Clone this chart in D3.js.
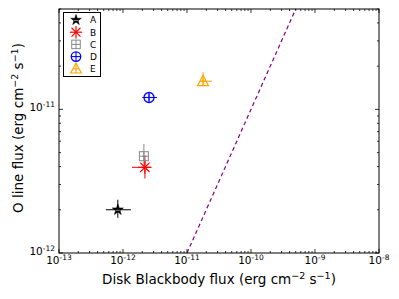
<!DOCTYPE html>
<html><head><meta charset="utf-8">
<script src="https://cdn.jsdelivr.net/npm/d3@7"></script>
<style>body{margin:0;background:#fff}svg{display:block}text{font-family:"DejaVu Sans",sans-serif}</style>
</head><body>
<svg id="c" width="399" height="299"></svg>
<script>
const names   = ["A","B","C","D","E"];
const colors  = ["#000000","#ff0000","#888888","#0000ff","#ffa500"];
const shapes  = ["star","asterisk","square","circle","triangle"];
const xVal    = [8.3e-13, 2.2e-12, 2.12e-12, 2.55e-12, 1.78e-11];
const xLo     = [5.4e-13, 1.38e-12, 2.0e-12, 2.0e-12, 1.6e-11];
const xHi     = [1.33e-12, 2.75e-12, 2.3e-12, 3.4e-12, 2.46e-11];
const yVal    = [2.0e-12, 3.95e-12, 4.72e-12, 1.21e-11, 1.57e-11];
const yLo     = [1.76e-12, 3.3e-12, 4.0e-12, 1.15e-11, 1.45e-11];
const yHi     = [2.35e-12, 4.75e-12, 5.75e-12, 1.28e-11, 1.82e-11];
const lineX   = [1e-11, 5e-10];
const lineY   = [1e-12, 5e-11];
const xDomain = [1e-13, 1e-8];
const yDomain = [1e-12, 5e-11];
const xMajor  = [-13,-12,-11,-10,-9,-8];
const yMajor  = [-12,-11];

const svg = d3.select("#c");
const L=59, R=379, T=9, B=253;
const x = d3.scaleLog().domain(xDomain).range([L,R]);
const y = d3.scaleLog().domain(yDomain).range([B,T]);

// dashed line
svg.append("path").datum(lineX.map((v,i)=>[v,lineY[i]]))
  .attr("d", d3.line().x(d=>x(d[0])).y(d=>y(d[1])))
  .attr("fill","none").attr("stroke","#800080").attr("stroke-width",1.2).attr("stroke-dasharray","4,3");

function marker(g, shape, color, s){
  const k = s||1;
  if(shape==="star"){
    g.append("path").attr("d", d3.symbol(d3.symbolStar).size(38*k*k)()).attr("fill",color).attr("stroke",color).attr("stroke-width",0.6);
    g.append("line").attr("x1",-2).attr("x2",2).attr("y1",0.5).attr("y2",0.5).attr("stroke","#fff").attr("stroke-width",0.5);
  } else if(shape==="asterisk"){
    const r=6.5*k;
    [[0,-r,0,r],[-r,0,r,0],[-r*0.72,-r*0.72,r*0.72,r*0.72],[-r*0.72,r*0.72,r*0.72,-r*0.72]].forEach(l=>
      g.append("line").attr("x1",l[0]).attr("y1",l[1]).attr("x2",l[2]).attr("y2",l[3]).attr("stroke",color).attr("stroke-width",1.2));
  } else if(shape==="square"){
    const h=4.5*k;
    g.append("rect").attr("x",-h).attr("y",-h).attr("width",2*h).attr("height",2*h).attr("fill","none").attr("stroke",color).attr("stroke-width",1);
    g.append("line").attr("x1",-h).attr("x2",h).attr("y1",0).attr("y2",0).attr("stroke",color);
    g.append("line").attr("y1",-h).attr("y2",h).attr("x1",0).attr("x2",0).attr("stroke",color);
  } else if(shape==="circle"){
    const r=5*k;
    g.append("circle").attr("r",r).attr("fill","none").attr("stroke",color).attr("stroke-width",1.3);
    g.append("line").attr("x1",-r).attr("x2",r).attr("y1",0).attr("y2",0).attr("stroke",color).attr("stroke-width",1.1);
    g.append("line").attr("y1",-r).attr("y2",r).attr("x1",0).attr("x2",0).attr("stroke",color).attr("stroke-width",1.1);
  } else if(shape==="triangle"){
    const h=5.5*k;
    g.append("path").attr("d",`M0,${-h*1.1}L${h},${h*0.8}L${-h},${h*0.8}Z`).attr("fill","none").attr("stroke",color).attr("stroke-width",1.2);
    g.append("line").attr("y1",-h*1.1).attr("y2",h*0.8).attr("x1",0).attr("x2",0).attr("stroke",color).attr("stroke-width",1.1);
    g.append("line").attr("x1",-h*0.5).attr("x2",h*0.5).attr("y1",0).attr("y2",0).attr("stroke",color).attr("stroke-width",1.1);
  }
}

// error bars and markers
names.forEach((n,i)=>{
  const c=colors[i];
  svg.append("line").attr("x1",x(xLo[i])).attr("x2",x(xHi[i])).attr("y1",y(yVal[i])).attr("y2",y(yVal[i])).attr("stroke",c).attr("stroke-width",1);
  svg.append("line").attr("x1",x(xVal[i])).attr("x2",x(xVal[i])).attr("y1",y(yLo[i])).attr("y2",y(yHi[i])).attr("stroke",c).attr("stroke-width",1);
});
names.forEach((n,i)=>{
  const g=svg.append("g").attr("transform",`translate(${x(xVal[i])},${y(yVal[i])})`);
  marker(g, shapes[i], colors[i], 1);
});

// frame
svg.append("rect").attr("x",L).attr("y",T).attr("width",R-L).attr("height",B-T).attr("fill","none").attr("stroke","#000").attr("stroke-width",1);

// ticks
function minors(lo,hi){const out=[];for(let e=lo;e<hi;e++)for(let m=2;m<=9;m++)out.push(m*Math.pow(10,e));return out;}
const tk = svg.append("g").attr("stroke","#000").attr("stroke-width",0.8);
xMajor.forEach(e=>{const px=x(Math.pow(10,e));
  tk.append("line").attr("x1",px).attr("x2",px).attr("y1",B).attr("y2",B-4);
  tk.append("line").attr("x1",px).attr("x2",px).attr("y1",T).attr("y2",T+4);});
minors(-13,-8).forEach(v=>{const px=x(v);
  tk.append("line").attr("x1",px).attr("x2",px).attr("y1",B).attr("y2",B-2);
  tk.append("line").attr("x1",px).attr("x2",px).attr("y1",T).attr("y2",T+2);});
yMajor.forEach(e=>{const py=y(Math.pow(10,e));
  tk.append("line").attr("x1",L).attr("x2",L+4).attr("y1",py).attr("y2",py);
  tk.append("line").attr("x1",R).attr("x2",R-4).attr("y1",py).attr("y2",py);});
minors(-12,-10).filter(v=>v<=yDomain[1]*1.0001).forEach(v=>{const py=y(v);
  tk.append("line").attr("x1",L).attr("x2",L+2).attr("y1",py).attr("y2",py);
  tk.append("line").attr("x1",R).attr("x2",R-2).attr("y1",py).attr("y2",py);});

// tick labels
xMajor.forEach(e=>{
  const t=svg.append("text").attr("x",x(Math.pow(10,e))).attr("y",264).attr("text-anchor","middle").attr("font-size",10.5);
  t.append("tspan").text("10");
  t.append("tspan").attr("dy",-4.5).attr("font-size",7.5).text("-"+Math.abs(e));
});
yMajor.forEach(e=>{
  const t=svg.append("text").attr("x",55).attr("y",y(Math.pow(10,e))+2).attr("text-anchor","end").attr("font-size",10.5);
  t.append("tspan").text("10");
  t.append("tspan").attr("dy",-4.5).attr("font-size",7.5).text("-"+Math.abs(e));
});

// axis titles
function title(t){
  t.append("tspan").text("(erg cm");
  t.append("tspan").attr("dy",-5.5).attr("font-size",9.5).text("\u22122");
  t.append("tspan").attr("dy",5.5).text(" s");
  t.append("tspan").attr("dy",-5.5).attr("font-size",9.5).text("\u22121");
  t.append("tspan").attr("dy",5.5).text(")");
}
const xt=svg.append("text").attr("x",(L+R)/2).attr("y",284).attr("text-anchor","middle").attr("font-size",13.5);
xt.append("tspan").text("Disk Blackbody flux ");
title(xt);
const yt=svg.append("text").attr("transform",`translate(23,${(T+B)/2-3}) rotate(-90)`).attr("text-anchor","middle").attr("font-size",13.5);
yt.append("tspan").text("O line flux ");
title(yt);

// legend
svg.append("rect").attr("x",63.5).attr("y",12.5).attr("width",37).attr("height",64).attr("fill","#fff").attr("stroke","#000").attr("stroke-width",1);
names.forEach((n,i)=>{
  const cy=20+i*12.2;
  const g=svg.append("g").attr("transform",`translate(76,${cy})`);
  marker(g, shapes[i], colors[i], 0.95);
  svg.append("text").attr("x",90).attr("y",cy+3.3).attr("font-size",9).text(n);
});
</script>
</body></html>
